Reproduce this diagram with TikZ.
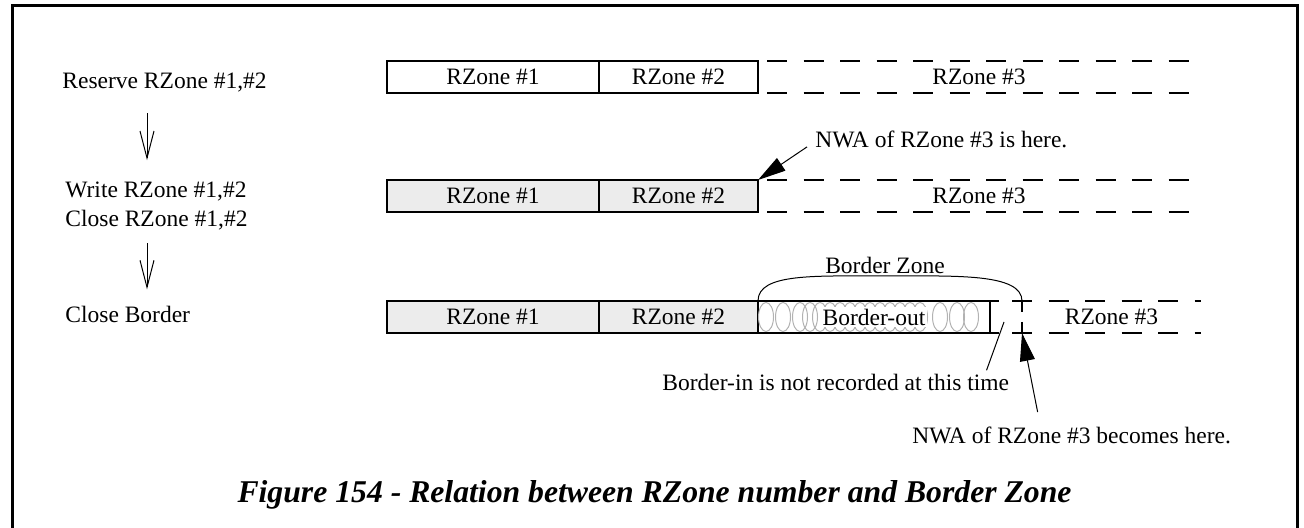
\documentclass[tikz,border=0pt]{standalone}
\usepackage{fontspec}
\setmainfont{Liberation Serif}
\usepackage{tikz}
\usetikzlibrary{arrows.meta, positioning}

\begin{document}
\begin{tikzpicture}[
  x=0.5pt, y=-0.5pt,
  every node/.style={font=\fontsize{11.75}{14.5}\selectfont},
  zone/.style={draw, line width=1.2pt, outer sep=0pt, inner sep=0pt, minimum height=16pt},
  donezone/.style={zone, fill=gray!15},
  freezone/.style={outer sep=0pt, inner sep=0pt, minimum height=16pt},
  dashrow/.style={line width=1.2pt, dash pattern=on 10pt off 8.25pt},
  coil/.style={black!30, line width=0.5pt},
  note/.style={inner sep=2pt},
  flow/.style={-{Straight Barb[length=13.5pt, width=7pt]}, line width=0.5pt},
  pointer/.style={-{Triangle[length=14pt, width=7.5pt]}, line width=0.5pt}
]
\useasboundingbox (0,0) rectangle (1304,528);
\draw[line width=1.5pt] (12,540) -- (12,6) -- (1297,6) -- (1297,540);

% steps
\node[note, anchor=base west] (res) at (58,89) {Reserve RZone \#1,\#2};
\node[note, anchor=base west] (wr) at (61,198) {Write RZone \#1,\#2};
\node[note, anchor=base west] (clz) at (61,227) {Close RZone \#1,\#2};
\node[note, anchor=base west] (clb) at (61,323) {Close Border};
\coordinate (ax) at (147,0);
\draw[flow, shorten <=8pt, shorten >=9pt] (res.south -| ax) -- (wr.north -| ax);
\draw[flow, shorten <=4pt, shorten >=6.5pt] (clz.south -| ax) -- (clb.north -| ax);

% row 1
\node[zone, minimum width=106pt, anchor=north west] (r1a) at (387,61) {RZone \#1};
\node[zone, minimum width=79.5pt, right=0pt of r1a] (r1b) {RZone \#2};
\node[freezone, minimum width=221pt, right=0pt of r1b] (r1c) {RZone \#3};
\draw[dashrow] ([xshift=4.5pt]r1c.north west) -- (r1c.north east);
\draw[dashrow] ([xshift=4.5pt]r1c.south west) -- (r1c.south east);

% row 2
\node[donezone, minimum width=106pt, anchor=north west] (r2a) at (387,180) {RZone \#1};
\node[donezone, minimum width=79.5pt, right=0pt of r2a] (r2b) {RZone \#2};
\node[freezone, minimum width=221pt, right=0pt of r2b] (r2c) {RZone \#3};
\draw[dashrow] ([xshift=4.5pt]r2c.north west) -- (r2c.north east);
\draw[dashrow] ([xshift=4.5pt]r2c.south west) -- (r2c.south east);
\node[note, anchor=base west] (nwa1) at (811,148) {NWA of RZone \#3 is here.};
\draw[pointer] ([xshift=-2pt, yshift=-3.5pt]nwa1.west) -- (r2b.north east);

% row 3
\node[donezone, minimum width=106pt, anchor=north west] (r3a) at (387,301) {RZone \#1};
\node[donezone, minimum width=79.5pt, right=0pt of r3a] (r3b) {RZone \#2};
\node[zone, minimum width=116pt, right=0pt of r3b] (bo) {};
\foreach \cx in {766,783,800,810,820,830,840,850,860,870,880,890,900,910,920,940,957,971}
  \draw[coil] (\cx,317) ellipse (3.75pt and 7.25pt);
\node[fill=white, inner sep=1pt] (bot) at (bo.center) {Border-out};
\draw[line width=1.2pt] (bo.north east) -- ++(9,0);
\draw[line width=1.2pt] (bo.south east) -- ++(9,0);
\node[freezone, minimum width=89.5pt, right=16pt of bo] (z33) {RZone \#3};
\draw[dashrow] ([xshift=-5pt]z33.north west) -- (z33.north east);
\draw[dashrow] ([xshift=-5pt]z33.south west) -- (z33.south east);
\draw[line width=1.2pt, dash pattern=on 5.5pt off 5pt] (z33.north west) -- (z33.south west);

% border zone
\node[note, anchor=base] (bz) at (885,274) {Border Zone};
\draw[line width=0.5pt] (bo.north west) .. controls +(0,-28) and +(-70,0) .. ([yshift=-1pt]bz.base)
  .. controls +(70,0) and +(0,-28) .. (z33.north west);

% notes below
\coordinate (bin) at (1004,322);
\node[note, anchor=base west] (bi) at (658,391) {Border-in is not recorded at this time};
\draw[line width=0.5pt] (bin) -- ([xshift=-13.5pt]bi.north east);
\node[note, anchor=base west] (nwa2) at (908,444) {NWA of RZone \#3 becomes here.};
\draw[pointer] ([xshift=-17pt, yshift=5.5pt]nwa2.north) -- (z33.south west);

\node[font=\fontsize{15.85}{19}\selectfont\bfseries\itshape, anchor=base] (cap) at (654.5,502)
  {Figure 154 - Relation between RZone number and Border Zone};
\end{tikzpicture}
\end{document}
